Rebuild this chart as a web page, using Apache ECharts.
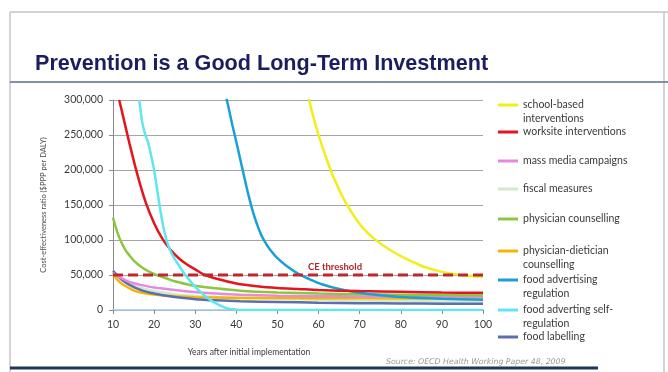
<!DOCTYPE html>
<html>
<head>
<meta charset="utf-8">
<script src="https://cdn.jsdelivr.net/npm/echarts@6/dist/echarts.min.js"></script>
<style>
html,body{margin:0;padding:0;background:#fff;}
#c{width:668px;height:372px;}
</style>
</head>
<body>
<div id="c"></div>
<script>
// ---- data ----
const titleText = 'Prevention is a Good Long-Term Investment';
const sourceText = 'Source: OECD Health Working Paper 48, 2009';
const xAxisName = 'Years after initial implementation';
const yAxisName = 'Cost-effectiveness ratio ($PPP per DALY)';
const thresholdLabel = 'CE threshold';
const thresholdX = [10, 100];
const thresholdY = [50000, 50000];

const seriesNames = [
  'school-based interventions',
  'worksite interventions',
  'mass media campaigns',
  'fiscal measures',
  'physician counselling',
  'physician-dietician counselling',
  'food advertising regulation',
  'food adverting self-regulation',
  'food labelling'
];
const legendLabels = [
  'school-based\ninterventions',
  'worksite interventions',
  'mass media campaigns',
  'fiscal measures',
  'physician counselling',
  'physician-dietician\ncounselling',
  'food advertising\nregulation',
  'food adverting self-\nregulation',
  'food labelling'
];

const schoolX = [57.5, 58, 59, 60, 61, 62, 63, 64, 65, 66, 67, 68, 69, 70, 71, 72, 73, 74, 76, 78, 80, 83, 86, 90, 95, 100];
const schoolY = [305000, 293000, 270000, 250000, 232000, 215000, 199000, 185000, 172000, 160000, 149500, 140000, 131000, 123000, 116000, 110000, 104500, 99500, 91000, 83500, 77000, 68500, 61000, 54500, 49800, 47500];

const worksiteX = [11.5, 12, 14, 16, 18, 20, 22, 24, 26, 28, 30, 32, 35, 40, 45, 50, 55, 60, 70, 80, 90, 100];
const worksiteY = [300000, 288000, 238000, 192000, 153000, 124000, 102000, 86000, 74000, 65000, 58000, 51000, 45000, 38000, 34000, 31500, 30000, 28500, 27000, 26000, 25000, 24500];

const massX = [10, 11, 12, 14, 17, 20, 25, 29, 35, 41, 50, 60, 70, 80, 90, 100];
const massY = [53000, 49000, 45500, 40000, 35500, 32000, 28500, 26000, 23500, 21800, 20500, 19800, 19300, 19000, 18700, 18500];

const fiscalX = [10, 12, 14, 17, 20, 25, 30, 35, 41, 50, 60, 70, 80, 90, 100];
const fiscalY = [54000, 45000, 38000, 31000, 27000, 22500, 20000, 18500, 17500, 16000, 14500, 13500, 12800, 12300, 12000];

const physicianX = [10, 11, 12, 13, 14, 15, 17, 19, 21, 23, 25, 29, 35, 41, 50, 60, 70, 80, 90, 100];
const physicianY = [132000, 112000, 97000, 86000, 78000, 71000, 61000, 54000, 49000, 45000, 41000, 35500, 31000, 27500, 25000, 23500, 22500, 21800, 21300, 21000];

const dieticianX = [10, 12, 14, 16, 20, 25, 30, 40, 60, 80, 100];
const dieticianY = [50000, 38000, 31000, 26000, 22000, 19500, 18300, 17300, 16800, 16500, 16300];

const advRegX = [37.5, 38, 39, 40, 41, 42, 43, 44, 45, 46, 47, 48, 50, 52, 55, 58, 61, 65, 70, 75, 80, 90, 100];
const advRegY = [305000, 292000, 265000, 240000, 214000, 188000, 163000, 141000, 123000, 108000, 97000, 88000, 74000, 64000, 52000, 43500, 36500, 30000, 24500, 21000, 18500, 16000, 14500];

const selfRegX = [16.4, 17, 17.5, 18, 18.5, 19, 20, 21, 22, 23, 24, 25, 26, 27, 28, 30, 32, 34, 36, 38, 40, 42, 50, 60, 70, 80, 90, 100];
const selfRegY = [300000, 272000, 258000, 248000, 240000, 228000, 200000, 162000, 126000, 100000, 84000, 73000, 64000, 55000, 47000, 33000, 22000, 13000, 6500, 2000, 500, 0, 0, 0, 0, 0, 0, 0];

const labellingX = [10, 12, 14, 17, 20, 25, 30, 35, 41, 50, 60, 70, 80, 90, 100];
const labellingY = [56000, 44000, 36000, 28000, 23500, 18500, 15500, 13800, 12500, 11500, 10500, 9800, 9300, 9000, 8800];

const xTicks = {min: 10, max: 100, interval: 10};
const yTicks = {min: 0, max: 300000, interval: 50000};

// ---- styling (not data) ----
const colors = ['#f2ee1a', '#e3151d', '#e58ae0', '#d3e8cc', '#8cc63f', '#f4b400', '#1b9fd8', '#5fe6ef', '#5b6fae'];
const legendCenters = [103, 132, 161, 189, 219, 249, 278, 308, 337];
const lineH = 14;

const pairs = (xs, ys) => xs.map((x, i) => [x, ys[i]]);
const seriesData = [
  pairs(schoolX, schoolY), pairs(worksiteX, worksiteY), pairs(massX, massY),
  pairs(fiscalX, fiscalY), pairs(physicianX, physicianY), pairs(dieticianX, dieticianY),
  pairs(advRegX, advRegY), pairs(selfRegX, selfRegY), pairs(labellingX, labellingY)
];
const drawOrder = [3, 5, 8, 2, 4, 6, 1, 7, 0];

const series = drawOrder.map(i => ({
  name: seriesNames[i],
  type: 'line',
  data: seriesData[i],
  smooth: 0.3,
  showSymbol: false,
  symbol: 'none',
  clip: true,
  color: colors[i],
  lineStyle: {width: 2.5, color: colors[i]},
  z: 3
}));
series.push({
  name: thresholdLabel,
  type: 'line',
  data: pairs(thresholdX, thresholdY),
  showSymbol: false,
  symbol: 'none',
  color: '#c0262c',
  lineStyle: {width: 3, color: '#c0262c', type: [10, 5]},
  z: 5,
  markPoint: {
    symbol: 'circle', symbolSize: 0, silent: true,
    data: [{coord: [64, thresholdY[0]]}],
    label: {show: true, position: 'top', distance: 3, formatter: thresholdLabel,
      color: '#b3262e', fontSize: 9.5, fontWeight: 'bold', fontFamily: 'Lato'}
  }
});

const legends = seriesNames.map((name, i) => {
  const multi = legendLabels[i].indexOf('\n') >= 0;
  return {
    data: [name],
    left: 498,
    top: multi ? legendCenters[i] - lineH * 1.5 + 2 : legendCenters[i] - lineH / 2,
    padding: 0,
    icon: 'rect',
    itemWidth: 20,
    itemHeight: 3,
    itemGap: 0,
    selectedMode: false,
    // a leading blank line keeps the first text line level with the icon
    formatter: () => (multi ? ' \n' : '') + legendLabels[i],
    textStyle: {fontFamily: 'Lato', fontSize: 10.5, color: '#3a3a3a', lineHeight: lineH}
  };
});

const option = {
  backgroundColor: '#ffffff',
  animation: false,
  title: [
    {text: titleText, left: 30, top: 48,
     textStyle: {fontFamily: 'Liberation Sans', fontWeight: 'bold', fontSize: 21.6, color: '#1b1e5e'}},
    {text: sourceText, left: 381, top: 353,
     textStyle: {fontFamily: 'DejaVu Sans', fontStyle: 'italic', fontWeight: 'normal', fontSize: 7.8, color: '#9a9a9a'}}
  ],
  legend: legends,
  grid: {left: 113, right: 185, top: 100, bottom: 62},
  xAxis: {
    type: 'value', min: xTicks.min, max: xTicks.max, interval: xTicks.interval,
    name: xAxisName, nameLocation: 'middle', nameGap: 38,
    nameTextStyle: {fontFamily: 'Lato', fontSize: 8.5, color: '#3a3a3a', padding: [0, 98, 0, 0]},
    axisLine: {show: true, onZero: false, lineStyle: {color: '#9cc9ec', width: 1.5}},
    axisTick: {show: true, length: 4, lineStyle: {color: '#8a8a8a'}},
    axisLabel: {fontFamily: 'Lato', fontSize: 10.5, color: '#3a3a3a', margin: 9},
    splitLine: {show: false}
  },
  yAxis: {
    type: 'value', min: yTicks.min, max: yTicks.max, interval: yTicks.interval,
    name: yAxisName, nameLocation: 'middle', nameGap: 65, nameRotate: 90,
    nameTextStyle: {fontFamily: 'Lato', fontSize: 7.5, color: '#4a4a4a'},
    axisLine: {show: true, lineStyle: {color: '#8a8a8a', width: 1}},
    axisTick: {show: true, length: 4, lineStyle: {color: '#8a8a8a'}},
    axisLabel: {fontFamily: 'Lato', fontSize: 10.5, color: '#3a3a3a', margin: 10,
      formatter: v => v.toLocaleString('en-US')},
    splitLine: {show: true, lineStyle: {color: '#a6a6a6', width: 1}}
  },
  graphic: [
    {type: 'line', shape: {x1: 10, y1: 12, x2: 668, y2: 12}, style: {stroke: '#c4c4c4', lineWidth: 1.5}, silent: true},
    {type: 'line', shape: {x1: 10, y1: 12, x2: 10, y2: 372}, style: {stroke: '#c4c4c4', lineWidth: 1.5}, silent: true},
    {type: 'line', shape: {x1: 664, y1: 12, x2: 664, y2: 372}, style: {stroke: '#c4c4c4', lineWidth: 1.5}, silent: true},
    {type: 'line', shape: {x1: 10, y1: 82, x2: 668, y2: 82}, style: {stroke: '#8391a8', lineWidth: 2}, silent: true},
    {type: 'line', shape: {x1: 10, y1: 368, x2: 598, y2: 368}, style: {stroke: '#1f3556', lineWidth: 3}, silent: true}
  ],
  series: series
};

const chart = echarts.init(document.getElementById('c'), null, {renderer: 'canvas'});
chart.setOption(option);
</script>
</body>
</html>
